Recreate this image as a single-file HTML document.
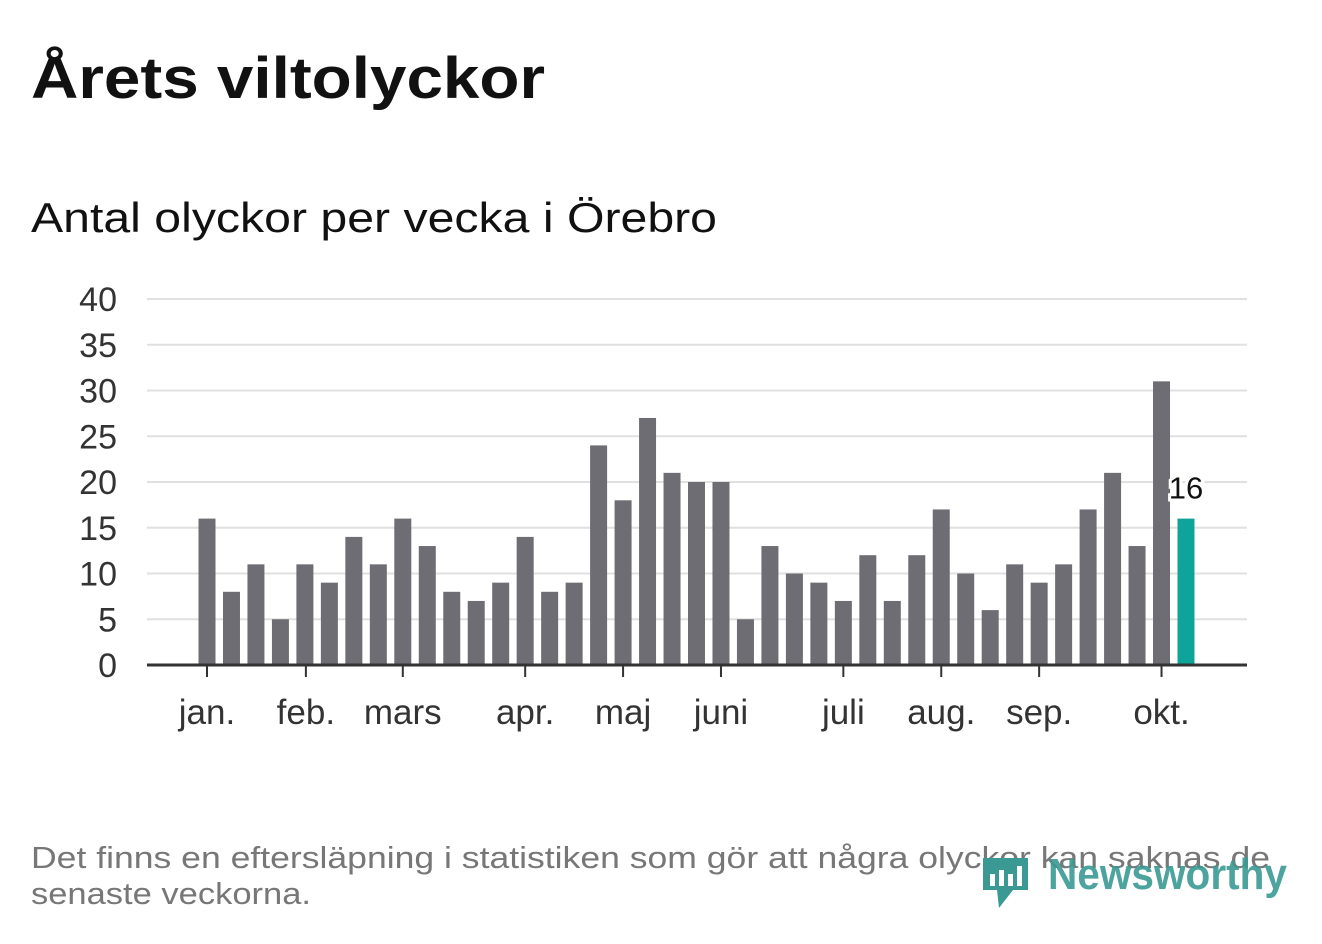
<!DOCTYPE html>
<html><head><meta charset="utf-8"><style>
body{margin:0;background:#fff;width:1322px;height:939px;overflow:hidden;font-family:"Liberation Sans",sans-serif}
</style></head><body>
<svg width="1322" height="939" xmlns="http://www.w3.org/2000/svg">
<text x="31" y="98" font-size="58" font-weight="bold" fill="#111" textLength="514" lengthAdjust="spacingAndGlyphs">Årets viltolyckor</text>
<text x="31" y="232" font-size="42" fill="#111" textLength="686" lengthAdjust="spacingAndGlyphs">Antal olyckor per vecka i Örebro</text>
<g id="grid"></g><g id="bars"></g><g id="axes"></g>
<text x="31" y="868" font-size="31" fill="#777" textLength="1239" lengthAdjust="spacingAndGlyphs">Det finns en eftersläpning i statistiken som gör att några olyckor kan saknas de</text>
<text x="31" y="904" font-size="31" fill="#777" textLength="280" lengthAdjust="spacingAndGlyphs">senaste veckorna.</text>
<g fill="#3a9a93">
<path d="M983 858 h45 v32 h-15 l-14 18 l-2 -18 h-14 z"/>
<rect x="990" y="874" width="5" height="12" fill="#fff"/><rect x="999" y="870" width="5" height="16" fill="#fff"/><rect x="1008" y="874" width="5" height="12" fill="#fff"/><rect x="1017" y="866" width="5" height="20" fill="#fff"/>
<text x="1048" y="889" font-size="44" font-weight="bold" fill="#3a9a93" opacity="0.9" textLength="239" lengthAdjust="spacingAndGlyphs">Newsworthy</text>
</g>
</svg>
<script>
const values=[16,8,11,5,11,9,14,11,16,13,8,7,9,14,8,9,24,18,27,21,20,20,5,13,10,9,7,12,7,12,17,10,6,11,9,11,17,21,13,31,16];
const yTicks=[0,5,10,15,20,25,30,35,40];
const monthLabels=["jan.","feb.","mars","apr.","maj","juni","juli","aug.","sep.","okt."];
const monthIdx=[0,4.04,8,13,17,21,26,30,34,39];
const NS="http://www.w3.org/2000/svg";
const y=v=>665-v*9.15;
const x=i=>207+i*24.475;
function mk(t,a,p){const e=document.createElementNS(NS,t);for(const k in a)e.setAttribute(k,a[k]);p.appendChild(e);return e;}
const g=document.getElementById('grid'),b=document.getElementById('bars'),ax=document.getElementById('axes');
yTicks.forEach(v=>{
 if(v>0){const l=mk('line',{x1:147,x2:1247,y1:y(v),y2:y(v),stroke:'#e0e0e0','stroke-width':2},g);
 
 }
 const t=mk('text',{x:117,y:y(v)+12,'font-size':34,fill:'#333','text-anchor':'end'},g);t.textContent=v;
 
 
});
values.forEach((v,i)=>{
 const last=i===values.length-1;
 const r=mk('rect',{x:x(i)-8.5,y:y(v),width:17,height:665-y(v),fill:last?'#0ea499':'#6e6d73'},b);
 
 
});
const li=values.length-1;
const lab=mk('text',{x:x(li),y:y(values[li])-20,'font-size':31,fill:'#111','text-anchor':'middle',stroke:'#fff','stroke-width':6,'paint-order':'stroke'},b);
lab.textContent=values[li];


const base=mk('line',{x1:147,x2:1247,y1:665,y2:665,stroke:'#333','stroke-width':3},ax);


monthLabels.forEach((m,k)=>{
 const xx=x(monthIdx[k]);
 const tk=mk('line',{x1:xx,x2:xx,y1:665,y2:677,stroke:'#333','stroke-width':2},ax);
 
 
 const t=mk('text',{x:xx,y:724,'font-size':35,fill:'#333','text-anchor':'middle'},ax);t.textContent=m;
 
 
});
</script>
</body></html>
